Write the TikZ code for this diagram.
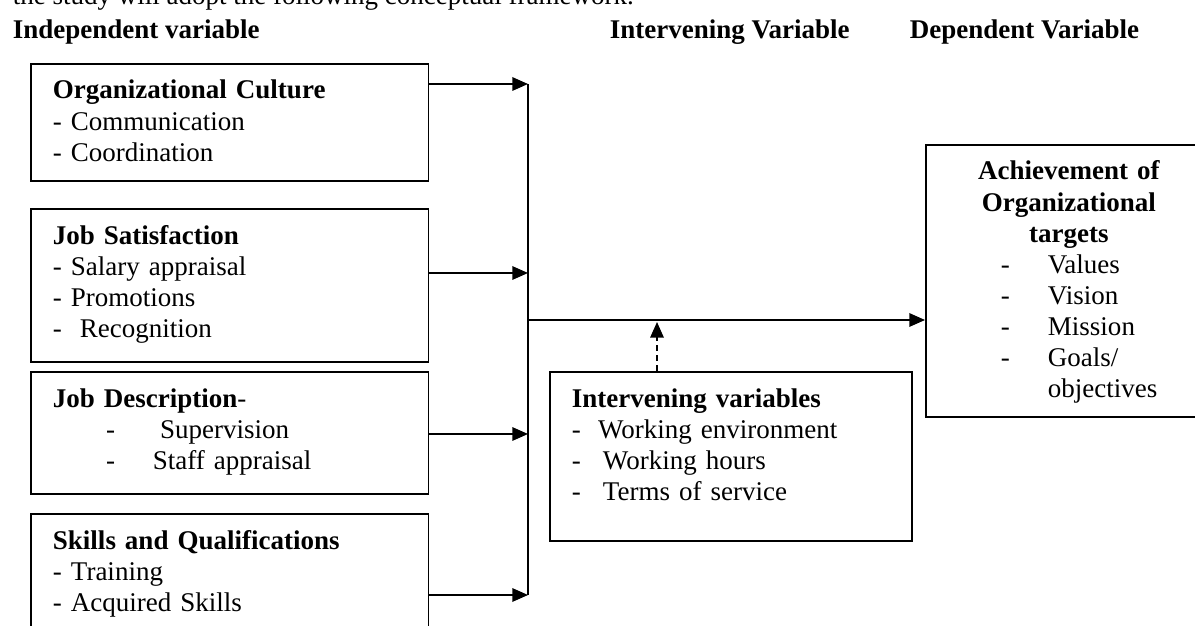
\documentclass[tikz,border=0pt]{standalone}
\usepackage{fontspec}
\setmainfont{Liberation Serif}
\usepackage{tikz}
\usetikzlibrary{arrows.meta}
\usetikzlibrary{positioning}

\newcommand{\goalline}[2]{\makebox[60.4pt][l]{\makebox[20.9pt][l]{#1}#2}}

\begin{document}
\begin{tikzpicture}[
	x=0.4444pt, y=-0.4444pt,
	line width=0.8pt,
	font=\fontsize{12pt}{13.8pt}\selectfont
]
\tikzset{
    varbox/.style = {rectangle, draw=black, anchor=north west, align=left, inner xsep=9.8pt, inner ysep=6.6pt, text height=9pt},
    flow/.style = {-{Triangle[length=7pt,width=6pt]}},
    heading/.style = {anchor=base west, inner sep=0pt, font=\fontsize{12pt}{13.8pt}\selectfont\bfseries}
}
\useasboundingbox (0,0) rectangle (1195,626);
\node[anchor=base west, inner sep=0pt] (intro) at (12,5) {the study will adopt the following conceptual framework.};
\node[heading] (hind) at (12,39) {Independent variable};
\node[heading] (hint) at (609,39) {Intervening Variable};
\node[heading] (hdep) at (909,39) {Dependent Variable};

\node[varbox, text width=157.1pt, text depth=29.8pt] (oc) at (30,63) {\textbf{Organizational Culture}\\- Communication\\- Coordination};
\node[varbox, text width=157.1pt, text depth=45.8pt] (js) at (30,208) {\textbf{Job Satisfaction}\\- Salary appraisal\\- Promotions\\-\ \ Recognition};
\node[varbox, text width=157.1pt, text depth=32pt] (jd) at (30,371) {\textbf{Job Description}-\\\hspace*{23.6pt}-\hspace{20pt}Supervision\\\hspace*{23.6pt}-\hspace{16.8pt}Staff appraisal};
\node[varbox, text width=157.1pt, text depth=44.5pt] (sq) at (30,513) {\textbf{Skills and Qualifications}\\- Training\\- Acquired Skills};
\node[varbox, text width=141.3pt, text depth=52.9pt] (iv) at (549,371) {\textbf{Intervening variables}\\-\hspace{7.6pt}Working environment\\-\hspace{9.8pt}Working hours\\-\hspace{9.8pt}Terms of service};
\node[varbox, align=center, text width=107.5pt, text depth=98.7pt] (ot) at (925,144) {\textbf{Achievement of}\\\textbf{Organizational}\\\textbf{targets}\\\goalline{-}{Values}\\\goalline{-}{Vision}\\\goalline{-}{Mission}\\\goalline{-}{Goals/}\\\goalline{}{objectives}};

\coordinate (b1) at (528,84);
\coordinate (b2) at (528,273);
\coordinate (b3) at (528,434);
\coordinate (b4) at (528,595);
\coordinate (hub) at (528,320);
\coordinate (mod) at (657,322);

\draw (b1) -- (b4);
\draw[flow] (b1 -| oc.east) -- (b1);
\draw[flow] (b2 -| js.east) -- (b2);
\draw[flow] (b3 -| jd.east) -- (b3);
\draw[flow] (b4 -| sq.east) -- (b4);
\draw[flow] (hub) -- (hub -| ot.west);
\draw[flow, dash pattern=on 2.5pt off 2pt] (mod |- iv.north) -- (mod);
\end{tikzpicture}
\end{document}
